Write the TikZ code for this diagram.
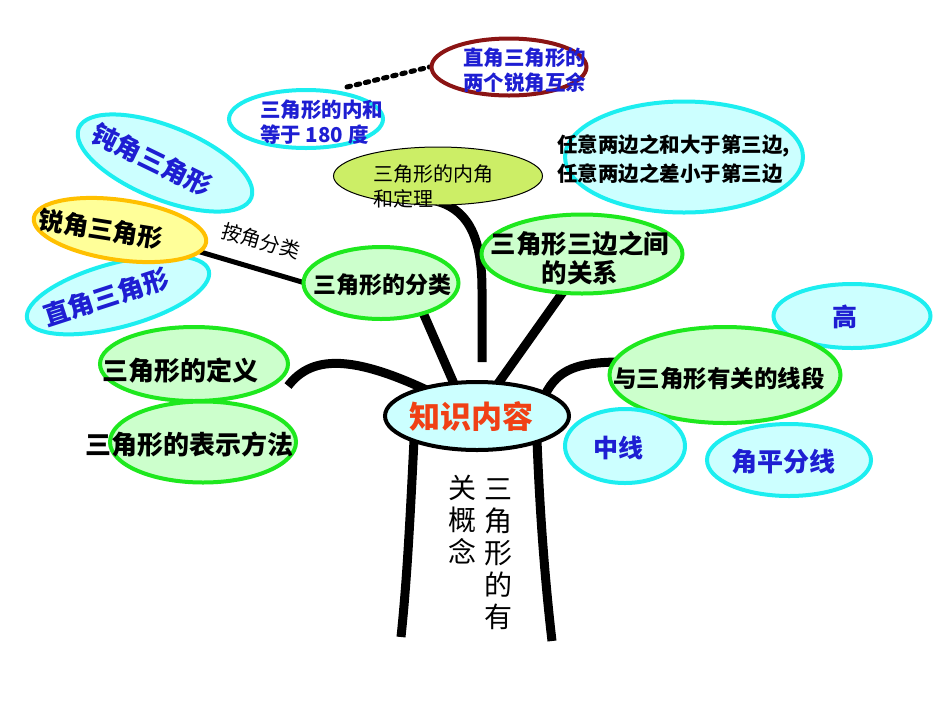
\documentclass[tikz,border=0pt]{standalone}
\usepackage{fontspec}
\setmainfont{Noto Sans CJK SC}
\usetikzlibrary{shapes.geometric,backgrounds}
\definecolor{lcyan}{HTML}{CCFFFF}
\definecolor{ccyan}{HTML}{1CEEF0}
\definecolor{lgreen}{HTML}{CCFFCC}
\definecolor{cgreen}{HTML}{1EE81E}
\definecolor{lyellow}{HTML}{FFFF99}
\definecolor{corange}{HTML}{FFC000}
\definecolor{ygreen}{HTML}{CCEE66}
\definecolor{maroonc}{HTML}{8B1414}
\definecolor{tblue}{HTML}{1E1ED2}
\definecolor{tred}{HTML}{F04015}
\newcommand{\myfs}[2]{\fontsize{#1}{#2}\selectfont}
\tikzset{
  ell/.style={ellipse, inner sep=0pt, line width=4pt},
  cy/.style={ell, draw=ccyan, fill=lcyan},
  gr/.style={ell, draw=cgreen, fill=lgreen},
  branch/.style={line width=9pt, black},
  txt/.style={inner sep=0pt, align=left},
  bluetxt/.style={txt, text=tblue},
}
\begin{document}
\begin{tikzpicture}[x=1pt,y=-1pt]
\useasboundingbox (0,0) rectangle (950,713);

% top: sum of angles
\node[ell, draw=ccyan, fill=white, minimum width=154, minimum height=58] (B) at (306,119) {};
\node[bluetxt, font=\bfseries\myfs{20.5}{24.5}, anchor=west] (tB) at (260,122) {三角形的内和\\等于 180 度};
\node[ell, draw=maroonc, fill=white, minimum width=155, minimum height=57] (A) at (509,67) {};
\node[bluetxt, font=\bfseries\myfs{20.5}{24.5}, anchor=west] (tA) at (463,70) {直角三角形的\\两个锐角互余};

% classification leaves
\node[cy, minimum width=186, minimum height=73, rotate=-22] (C) at (165,163) {};
\node[bluetxt, font=\bfseries\myfs{26}{26}, rotate=-26] (tC) at (152,160) {钝角三角形};
\node[cy, minimum width=188, minimum height=64, rotate=15] (E) at (118,295) {};
\node[bluetxt, font=\bfseries\myfs{26}{26}, rotate=18] (tE) at (106,297) {直角三角形};
\node[ell, draw=corange, fill=lyellow, minimum width=174, minimum height=60, rotate=-8] (D) at (120,230) {};
\node[txt, font=\bfseries\myfs{25}{25}, rotate=-9] (tD) at (101,229) {锐角三角形};
\node[txt, font=\myfs{20}{20}, rotate=-16] (tKey) at (261,241) {按角分类};

% angle sum theorem
\node[ell, draw=black, line width=1pt, fill=ygreen, minimum width=209, minimum height=58] (G) at (438,176) {};
\node[txt, font=\myfs{20}{25}, anchor=west] (tG) at (373,186) {三角形的内角\\和定理};

% side relations
\node[cy, minimum width=238, minimum height=111] (H) at (684,157) {};
\node[txt, font=\bfseries\myfs{20.5}{28.5}, anchor=west] (tH) at (557,159) {任意两边之和大于第三边,\\任意两边之差小于第三边};
\node[gr, minimum width=201, minimum height=79] (I) at (582,254) {};
\node[txt, align=center, font=\bfseries\myfs{25.5}{29}] (tI) at (580,258) {三角形三边之间\\的关系};

% classification
\node[gr, minimum width=155, minimum height=72] (F) at (381,283) {};
\node[txt, font=\bfseries\myfs{23}{23}] (tF) at (382,285) {三角形的分类};

% definition
\node[gr, minimum width=188, minimum height=74] (N) at (194,364) {};
\node[txt, font=\bfseries\myfs{26}{26}] (tN) at (180,371) {三角形的定义};
\node[gr, minimum width=186, minimum height=81] (O) at (203,442) {};
\node[txt, font=\bfseries\myfs{26}{26}] (tO) at (189,445) {三角形的表示方法};

% segments
\node[cy, minimum width=157, minimum height=64] (J) at (852,316) {};
\node[bluetxt, font=\bfseries\myfs{25}{25}] (tJ) at (845,317) {高};
\node[gr, minimum width=231, minimum height=96] (K) at (725,375) {};
\node[txt, font=\bfseries\myfs{23.5}{23.5}] (tK) at (719,378) {与三角形有关的线段};
\node[cy, minimum width=120, minimum height=74] (L) at (625,446) {};
\node[bluetxt, font=\bfseries\myfs{25}{25}] (tL) at (618,448) {中线};
\node[cy, minimum width=164, minimum height=72] (M) at (789,460) {};
\node[bluetxt, font=\bfseries\myfs{26}{26}] (tM) at (783,462) {角平分线};

% centre
\node[ell, draw=black, fill=lcyan, minimum width=184, minimum height=68] (P) at (477,416) {};
\node[txt, text=tred, font=\bfseries\myfs{31}{31}] (tP) at (471,417) {知识内容};

% trunk text
\node[txt, align=center, font=\myfs{28}{32}] (tV1) at (498,554) {三\\角\\形\\的\\有};
\node[txt, align=center, font=\myfs{28}{32}] (tV2) at (462,520) {关\\概\\念};

\begin{scope}[on background layer]
  \fill[white] (0,0) rectangle (950,713);
  \coordinate (bT) at (347,87);
  \coordinate (dR) at (192,249.5);
  \coordinate (fL) at (312,285);
  \coordinate (nE) at (288,386);
  \coordinate (fB) at (421,308);
  \coordinate (pF) at (455,386);
  \coordinate (gB) at (432,200);
  \coordinate (gE) at (482,362);
  \coordinate (iB) at (568,285);
  \coordinate (pI) at (497,385);
  \coordinate (pK) at (545,395);
  \coordinate (kL) at (615,362);
  \coordinate (pL) at (414,440);
  \coordinate (tLb) at (401,637);
  \coordinate (pR) at (537,440);
  \coordinate (tRb) at (552,641);
  \draw[line width=5pt, dash pattern=on 3.6pt off 5.8pt, line cap=round] (bT) -- (A.west);
  \draw[line width=5pt] (dR) -- (fL);
  \draw[branch] (nE) .. controls (312,355) and (355,348) .. (P.center);
  \draw[branch] (fB) -- (pF);
  \draw[branch] (gB) .. controls (470,208) and (482,240) .. (482,290) -- (gE);
  \draw[branch] (iB) -- (pI);
  \draw[branch] (pK) .. controls (558,368) and (580,363) .. (kL);
  \draw[branch] (pL) .. controls (410,520) and (407,580) .. (tLb);
  \draw[branch] (pR) .. controls (540,520) and (546,590) .. (tRb);
\end{scope}
\end{tikzpicture}
\end{document}
